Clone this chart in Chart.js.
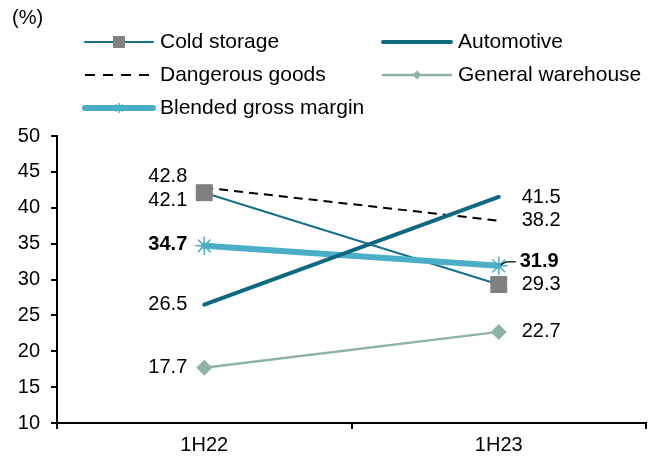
<!DOCTYPE html>
<html>
<head>
<meta charset="utf-8">
<script src="https://cdn.jsdelivr.net/npm/chart.js@4.4.0/dist/chart.umd.min.js"></script>
<style>
  html, body { margin: 0; padding: 0; background: #fff; }
  .chart-container { position: relative; width: 659px; height: 459px; }
</style>
</head>
<body>
<div class="chart-container"><canvas id="myChart" width="659" height="459"></canvas></div>
<script>
const categories = ["1H22", "1H23"];
const coldStorage = [42.1, 29.3];
const automotive = [26.5, 41.5];
const dangerousGoods = [42.8, 38.2];
const generalWarehouse = [17.7, 22.7];
const blendedMargin = [34.7, 31.9];
const yTicks = [10, 15, 20, 25, 30, 35, 40, 45, 50];
const unitLabel = "(%)";

const FONT = "Arial, 'Liberation Sans', sans-serif";

// legend drawn by hand, two columns like the original
const legendPlugin = {
  id: "gridLegend",
  afterDraw(chart) {
    const ctx = chart.ctx;
    const colX = [85, 383];
    const rowY = [42, 75, 108];
    ctx.save();
    ctx.fillStyle = "#000";
    ctx.font = "20px " + FONT;
    ctx.textBaseline = "middle";
    ctx.textAlign = "left";
    ctx.fillText(unitLabel, 12, 18);
    ctx.font = "21px " + FONT;
    chart.data.datasets.forEach((ds) => {
      const x = colX[ds.legendPos[0]];
      const y = rowY[ds.legendPos[1]];
      ctx.save();
      ctx.strokeStyle = ds.borderColor;
      ctx.lineWidth = ds.borderWidth;
      ctx.lineCap = ds.borderDash ? "butt" : "round";
      ctx.setLineDash(ds.borderDash ? [10, 8] : []);
      ctx.beginPath();
      ctx.moveTo(x, y);
      ctx.lineTo(x + 68, y);
      ctx.stroke();
      ctx.restore();
      if (ds.legendMarker) {
        ctx.save();
        ctx.fillStyle = ds.pointBackgroundColor;
        ctx.strokeStyle = ds.pointBorderColor;
        ctx.lineWidth = ds.pointBorderWidth;
        Chart.helpers.drawPoint(ctx, { pointStyle: ds.pointStyle, radius: ds.legendMarker, borderWidth: ds.pointBorderWidth, rotation: 0 }, x + 34, y);
        ctx.restore();
      }
      ctx.fillStyle = "#000";
      ctx.fillText(ds.label, x + 75, y);
    });
    ctx.restore();
  },
};

// value labels next to the points
const valueLabels = {
  id: "valueLabels",
  afterDatasetsDraw(chart) {
    const ctx = chart.ctx;
    ctx.save();
    ctx.textBaseline = "middle";
    chart.data.datasets.forEach((ds, i) => {
      const meta = chart.getDatasetMeta(i);
      meta.data.forEach((pt, j) => {
        const dy = ds.labelDy[j];
        ctx.font = (ds.labelBold ? "bold " : "") + "20px " + FONT;
        ctx.fillStyle = "#000";
        if (j === 0) {
          ctx.textAlign = "right";
          ctx.fillText(ds.data[j].toFixed(1), pt.x - 17, pt.y + dy);
        } else {
          ctx.textAlign = "left";
          let tx = pt.x + 23;
          if (ds.leader) {
            ctx.strokeStyle = "#000";
            ctx.lineWidth = 1.2;
            ctx.beginPath();
            ctx.moveTo(pt.x + 2, pt.y - 1);
            ctx.lineTo(pt.x + 7, pt.y + dy);
            ctx.lineTo(pt.x + 17, pt.y + dy);
            ctx.stroke();
            tx = pt.x + 21;
          }
          ctx.fillText(ds.data[j].toFixed(1), tx, pt.y + dy);
        }
      });
    });
    ctx.restore();
  },
};

const ctx1 = document.getElementById("myChart").getContext("2d");
const marginChart = new Chart(ctx1, {
  type: "line",
  data: {
    labels: categories,
    datasets: [
      {
        label: "Cold storage",
        data: coldStorage,
        borderColor: "#17718b",
        borderWidth: 2,
        pointStyle: "rect",
        pointRadius: 12,
        pointBackgroundColor: "#808080",
        pointBorderColor: "#808080",
        pointBorderWidth: 0,
        legendMarker: 8.5,
        legendPos: [0, 0],
        labelDy: [8, 0],
        order: 3,
      },
      {
        label: "Automotive",
        data: automotive,
        borderColor: "#0e6880",
        borderWidth: 4,
        borderCapStyle: "round",
        pointRadius: 0,
        legendPos: [1, 0],
        labelDy: [0, 0],
        order: 1,
      },
      {
        label: "Dangerous goods",
        data: dangerousGoods,
        borderColor: "#000000",
        borderWidth: 2,
        borderDash: [9, 6],
        pointRadius: 0,
        legendPos: [0, 1],
        labelDy: [-11, 0],
        order: 5,
      },
      {
        label: "General warehouse",
        data: generalWarehouse,
        borderColor: "#8db4a3",
        borderWidth: 2.5,
        pointStyle: "rectRot",
        pointRadius: 8,
        pointBackgroundColor: "#8db4a3",
        pointBorderColor: "#8db4a3",
        pointBorderWidth: 0,
        legendMarker: 4.5,
        legendPos: [1, 1],
        labelDy: [0, 0],
        order: 4,
      },
      {
        label: "Blended gross margin",
        data: blendedMargin,
        borderColor: "#4aaec8",
        borderWidth: 6,
        borderCapStyle: "round",
        pointStyle: "star",
        pointRadius: 9,
        pointBackgroundColor: "#4aaec8",
        pointBorderColor: "#4aaec8",
        pointBorderWidth: 1.5,
        legendMarker: 5,
        legendPos: [0, 2],
        labelDy: [-1, -4],
        labelBold: true,
        leader: true,
        order: 2,
      },
    ],
  },
  options: {
    responsive: false,
    animation: false,
    events: [],
    layout: { padding: { top: 136, right: 13, left: 0, bottom: 0 } },
    plugins: {
      legend: { display: false },
      tooltip: { enabled: false },
    },
    scales: {
      x: {
        offset: true,
        grid: { offset: true, drawOnChartArea: false, drawTicks: true, tickLength: 6, color: "#000", lineWidth: 2 },
        border: { color: "#000", width: 2 },
        ticks: { color: "#000", font: { size: 20, family: FONT }, padding: 4 },
        afterFit: (s) => { s.height = 36; },
      },
      y: {
        min: 10,
        max: 50,
        afterBuildTicks: (s) => { s.ticks = yTicks.map((v) => ({ value: v })); },
        grid: { drawOnChartArea: false, drawTicks: true, tickLength: 6, color: "#000", lineWidth: 2 },
        border: { color: "#000", width: 2 },
        ticks: { color: "#000", font: { size: 20, family: FONT }, padding: 11 },
        afterFit: (s) => { s.width = 57; },
      },
    },
  },
  plugins: [legendPlugin, valueLabels],
});
</script>
</body>
</html>
